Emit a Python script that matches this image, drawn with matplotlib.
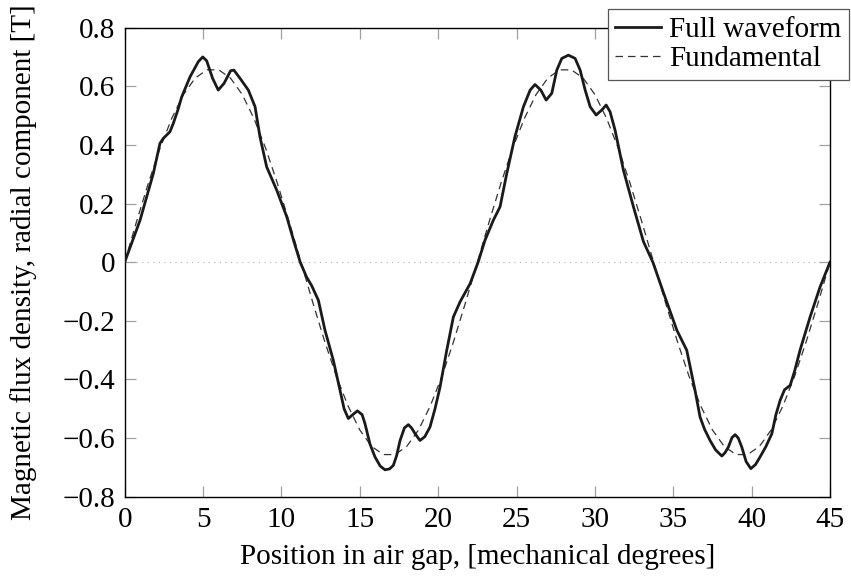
import matplotlib
matplotlib.use('Agg')
import matplotlib.pyplot as plt

plt.rcParams['font.family'] = ['Liberation Serif', 'DejaVu Serif']
plt.rcParams['font.size'] = 21

# full waveform
full_x = [0, 0.98, 1.83, 2.25, 2.46, 2.89, 3.10, 3.40, 3.64, 4.17, 4.70, 4.98, 5.23,
          5.61, 5.97, 6.34, 6.76, 6.97, 7.36, 7.89, 8.32, 8.63, 9.06, 9.7, 10.34,
          10.8, 11.2, 11.6, 11.93, 12.36, 12.78, 13.31, 13.74, 14.0, 14.27, 14.55,
          14.85, 15.15, 15.33, 15.65, 15.97, 16.3, 16.61, 16.9, 17.14, 17.35, 17.57,
          17.85, 18.1, 18.3, 18.53, 18.84, 19.15, 19.48, 19.8, 20.12, 20.55,
          20.97, 21.4, 22.04, 22.55, 22.99, 23.52, 23.95, 24.38, 24.9, 25.44, 25.87,
          26.18, 26.55, 26.89, 27.25, 27.57, 27.89, 28.31, 28.74, 29.06, 29.38, 29.7,
          30.08, 30.44, 30.72, 30.97, 31.29, 31.82, 32.46, 33.1, 33.7, 34.35, 35.23,
          35.86, 36.39, 36.71, 37.0, 37.35, 37.7, 38.1, 38.3, 38.52, 38.75, 38.95,
          39.15, 39.37, 39.65, 39.95, 40.25, 40.54, 40.9, 41.29, 41.55, 41.82, 42.1,
          42.46, 42.75, 43.09, 43.73, 44.37, 45]
full_y = [0, 0.143, 0.303, 0.405, 0.422, 0.445, 0.473, 0.52, 0.564, 0.632, 0.684, 0.70,
          0.687, 0.627, 0.587, 0.61, 0.653, 0.655, 0.627, 0.587, 0.53, 0.428, 0.325,
          0.246, 0.155, 0.07, 0.0, -0.05, -0.08, -0.13, -0.232, -0.334, -0.437, -0.50,
          -0.533, -0.52, -0.507, -0.52, -0.55, -0.62, -0.664, -0.695, -0.708, -0.705,
          -0.693, -0.66, -0.608, -0.565, -0.554, -0.565, -0.585, -0.608, -0.595,
          -0.562, -0.50, -0.426, -0.30, -0.187, -0.135, -0.073, 0.0, 0.075, 0.143,
          0.189, 0.303, 0.428, 0.53, 0.587, 0.606, 0.587, 0.553, 0.576, 0.655, 0.695,
          0.706, 0.695, 0.655, 0.587, 0.53, 0.502, 0.519, 0.536, 0.513, 0.45, 0.314,
          0.189, 0.07, 0.0, -0.1, -0.232, -0.30, -0.437, -0.528, -0.57, -0.608, -0.64,
          -0.661, -0.65, -0.63, -0.598, -0.588, -0.60, -0.63, -0.68, -0.704, -0.69,
          -0.664, -0.63, -0.585, -0.52, -0.471, -0.435, -0.42, -0.37, -0.30, -0.187,
          -0.084, 0]

# fundamental, read every 0.75 degrees
fund_x = [0.75 * i for i in range(61)]
fund_half = [0, 0.137, 0.268, 0.388, 0.490, 0.572, 0.628, 0.656, 0.656, 0.628, 0.572,
             0.490, 0.388, 0.268, 0.137]
fund_y = (fund_half + [-v for v in fund_half]) * 2 + [0]

fig = plt.figure(figsize=(8.51, 5.79), dpi=100)
ax = fig.add_axes([0.1465, 0.142, 0.8288, 0.8103])

ax.axhline(0, color='#b0b0b0', lw=0.8, ls=(0, (1, 4)), zorder=1)
ax.plot(fund_x, fund_y, color='#333333', lw=0.9, ls=(0, (6, 4)), label='Fundamental', zorder=2)
ax.plot(full_x, full_y, color='#1a1a1a', lw=2.0, label='Full waveform', zorder=3,
        solid_joinstyle='round')

ax.set_xlim(0, 45)
ax.set_ylim(-0.8, 0.8)
ax.set_xticks(range(0, 46, 5))
ax.set_yticks([-0.8, -0.6, -0.4, -0.2, 0, 0.2, 0.4, 0.6, 0.8])
ax.set_yticklabels(['\u22120.8', '\u22120.6', '\u22120.4', '\u22120.2', '0',
                    '0.2', '0.4', '0.6', '0.8'])
ax.tick_params(direction='in', length=8, width=0.9, color='#a0a0a0',
               top=True, right=True, pad=7)
for s in ax.spines.values():
    s.set_linewidth(1.0)

ax.set_xlabel('Position in air gap, [mechanical degrees]', labelpad=8)
ax.set_ylabel('Magnetic flux density, radial component [T]')
ax.yaxis.set_label_coords(-0.125, 0.5)

h, l = ax.get_legend_handles_labels()
leg = fig.legend(h[::-1], l[::-1], loc='upper right', bbox_to_anchor=(0.9975, 0.984),
                 fancybox=False, edgecolor='#555555', framealpha=1, borderpad=0.25,
                 handlelength=1.55, handletextpad=0.3, labelspacing=0.1, borderaxespad=0)
leg.get_frame().set_linewidth(0.9)

fig.savefig('out.png', dpi=100)
